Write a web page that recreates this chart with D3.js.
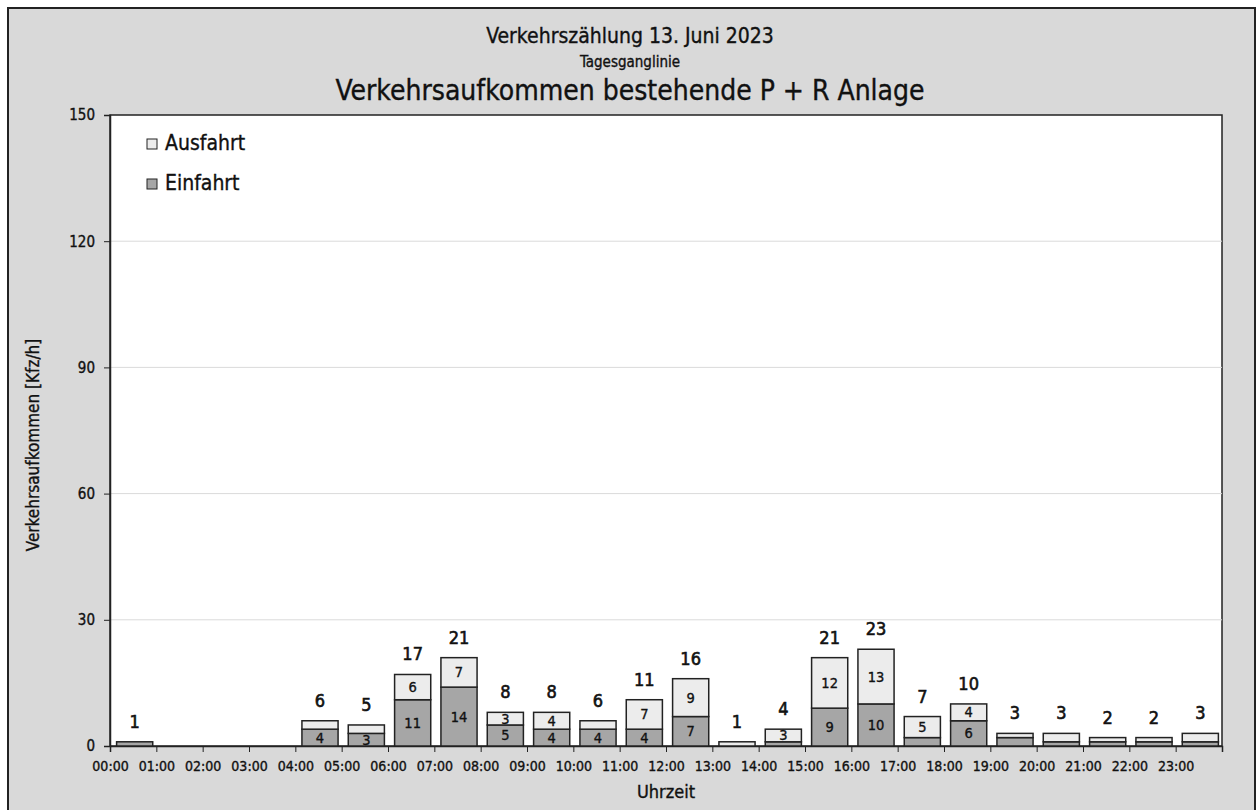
<!DOCTYPE html>
<html>
<head>
<meta charset="utf-8">
<script src="https://cdn.jsdelivr.net/npm/d3@7"></script>
<style>
  body { margin: 0; background: #fff; }
  svg text { font-family: "DejaVu Sans Condensed", "Liberation Sans Narrow", Roboto, sans-serif; fill: #111; stroke: #111; stroke-width: 0.35px; }
</style>
</head>
<body>
<div id="chart"></div>
<script>
// hour labels
var hours = ["00:00","01:00","02:00","03:00","04:00","05:00","06:00","07:00","08:00","09:00","10:00","11:00",
             "12:00","13:00","14:00","15:00","16:00","17:00","18:00","19:00","20:00","21:00","22:00","23:00"];
// Einfahrt (in) per hour
var einfahrt = [1,0,0,0,4,3,11,14,5,4,4,4,7,0,1,9,10,2,6,2,1,1,1,1];
// Ausfahrt (out) per hour
var ausfahrt = [0,0,0,0,2,2,6,7,3,4,2,7,9,1,3,12,13,5,4,1,2,1,1,2];
var yTicks = [0,30,60,90,120,150];

var W = 1256, H = 810;
var margin = {top: 115, right: 34, bottom: 64, left: 110},
    width = W - margin.left - margin.right,
    height = H - margin.top - margin.bottom;

var svg = d3.select("#chart").append("svg")
    .attr("width", W)
    .attr("height", H);

// grey background and outer frame
svg.append("rect")
    .attr("x", 8).attr("y", 8)
    .attr("width", 1247).attr("height", 820)
    .attr("fill", "#d9d9d9")
    .attr("stroke", "#222")
    .attr("stroke-width", 2);

// titles
svg.append("text").text("Verkehrszählung 13. Juni 2023")
    .attr("x", 630).attr("y", 43)
    .attr("text-anchor", "middle").style("font-size", "21px");
svg.append("text").text("Tagesganglinie")
    .attr("x", 630).attr("y", 67)
    .attr("text-anchor", "middle").style("font-size", "15px");
svg.append("text").text("Verkehrsaufkommen bestehende P + R Anlage")
    .attr("x", 630).attr("y", 100)
    .attr("text-anchor", "middle").style("font-size", "28px");

var g = svg.append("g")
    .attr("transform", "translate(" + margin.left + "," + margin.top + ")");

// plot area
g.append("rect")
    .attr("width", width).attr("height", height)
    .attr("fill", "#fff")
    .attr("stroke", "#222")
    .attr("stroke-width", 1.5);

var x = d3.scaleBand()
    .domain(hours)
    .range([0, width])
    .paddingInner(0.22)
    .paddingOuter(0.11);

var y = d3.scaleLinear()
    .domain([0, 150])
    .range([height, 0]);

// gridlines
g.selectAll(".grid")
  .data(yTicks.filter(function(d){ return d > 0 && d < 150; }))
  .enter().append("line")
    .attr("x1", 0).attr("x2", width)
    .attr("y1", function(d){ return y(d); })
    .attr("y2", function(d){ return y(d); })
    .attr("stroke", "#dadada")
    .attr("stroke-width", 1);

// Y axis
var yAxis = g.append("g")
    .call(d3.axisLeft(y).tickValues(yTicks).tickSize(6).tickPadding(9));
yAxis.select(".domain").attr("stroke", "#222").attr("stroke-width", 1.5);
yAxis.selectAll(".tick line").attr("stroke", "#222");
yAxis.selectAll("text").style("font-size", "15px").attr("fill", "#111");

// X axis: ticks on hour boundaries
var xAxisScale = d3.scaleLinear().domain([0, 24]).range([0, width]);
var xAxis = g.append("g")
    .attr("transform", "translate(0," + height + ")")
    .call(d3.axisBottom(xAxisScale)
      .tickValues(d3.range(0, 25))
      .tickSize(6)
      .tickPadding(9)
      .tickFormat(function(d){ return d < 24 ? hours[d] : ""; }));
xAxis.select(".domain").attr("stroke", "#222").attr("stroke-width", 1.5);
xAxis.selectAll(".tick line").attr("stroke", "#222");
xAxis.selectAll("text").style("font-size", "14px").attr("fill", "#111");

// stacked data
var rows = hours.map(function(h, i){ return {hour: h, Einfahrt: einfahrt[i], Ausfahrt: ausfahrt[i]}; });
var keys = ["Einfahrt", "Ausfahrt"];
var color = d3.scaleOrdinal().domain(keys).range(["#a6a6a6", "#ececec"]);
var stacked = d3.stack().keys(keys)(rows);

var layers = g.selectAll(".layer")
  .data(stacked)
  .enter().append("g")
    .attr("fill", function(d){ return color(d.key); });

var shift = 1.5;
layers.selectAll("rect")
  .data(function(d){ return d.filter(function(s){ return s[1] - s[0] > 0; }); })
  .enter().append("rect")
    .attr("x", function(d){ return x(d.data.hour) + shift; })
    .attr("y", function(d){ return y(d[1]); })
    .attr("width", x.bandwidth())
    .attr("height", function(d){ return y(d[0]) - y(d[1]); })
    .attr("stroke", "#222")
    .attr("stroke-width", 1.5);

// segment value labels (only when big enough)
layers.selectAll("text")
  .data(function(d){ return d.filter(function(s){ return s[1] - s[0] >= 3; }); })
  .enter().append("text")
    .attr("x", function(d){ return x(d.data.hour) + shift + x.bandwidth() / 2; })
    .attr("y", function(d){ return (y(d[0]) + y(d[1])) / 2 + 5; })
    .attr("text-anchor", "middle")
    .style("font-size", "14.5px")
    .text(function(d){ return d[1] - d[0]; });

// totals above bars
g.selectAll(".total")
  .data(rows.filter(function(d){ return d.Einfahrt + d.Ausfahrt > 0; }))
  .enter().append("text")
    .attr("x", function(d){ return x(d.hour) + shift + x.bandwidth() / 2; })
    .attr("y", function(d){ return y(d.Einfahrt + d.Ausfahrt) - 14; })
    .attr("text-anchor", "middle")
    .style("font-size", "18px")
    .style("stroke-width", "0.6px")
    .text(function(d){ return d.Einfahrt + d.Ausfahrt; });

// legend
var legend = g.selectAll(".legend")
  .data(["Ausfahrt", "Einfahrt"])
  .enter().append("g")
    .attr("transform", function(d, i){ return "translate(37," + (24 + i * 40) + ")"; });
legend.append("rect")
    .attr("width", 10).attr("height", 10)
    .attr("fill", function(d){ return color(d); })
    .attr("stroke", "#222").attr("stroke-width", 1);
legend.append("text")
    .attr("x", 18).attr("y", 11)
    .style("font-size", "21px")
    .text(function(d){ return d; });

// axis titles
svg.append("text").text("Verkehrsaufkommen [Kfz/h]")
    .attr("transform", "translate(39,445) rotate(-90)")
    .attr("text-anchor", "middle")
    .style("font-size", "17px");
svg.append("text").text("Uhrzeit")
    .attr("x", margin.left + width / 2).attr("y", 798)
    .attr("text-anchor", "middle")
    .style("font-size", "18px");
</script>
</body>
</html>
